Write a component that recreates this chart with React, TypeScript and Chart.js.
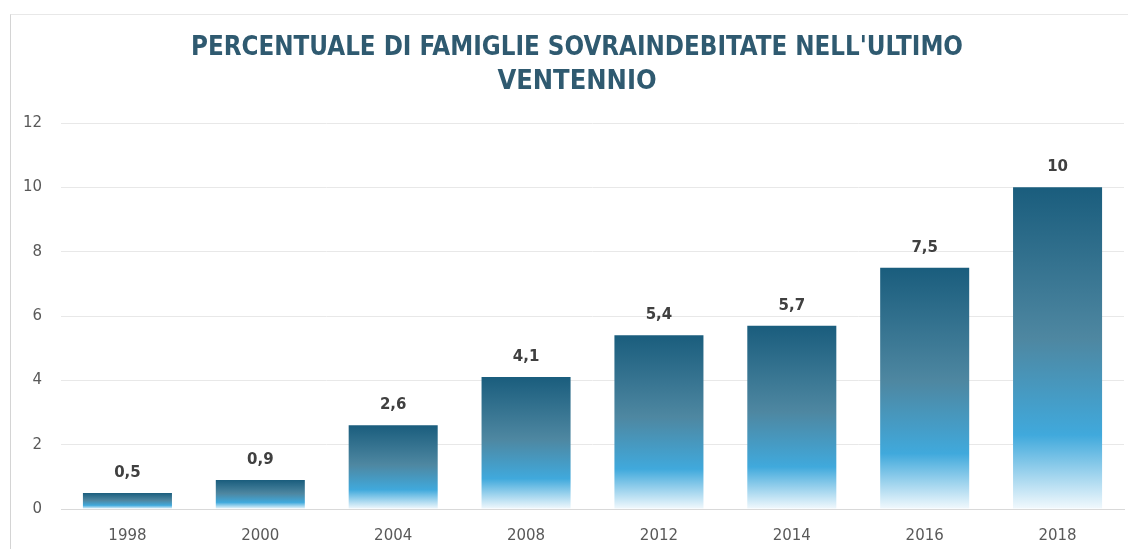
import React, { useEffect, useRef } from "react";
import { Chart, registerables } from "chart.js";

Chart.register(...registerables);

const categories = ["1998", "2000", "2004", "2008", "2012", "2014", "2016", "2018"];
const values = [0.5, 0.9, 2.6, 4.1, 5.4, 5.7, 7.5, 10];
const valueLabels = ["0,5", "0,9", "2,6", "4,1", "5,4", "5,7", "7,5", "10"];
const titleLines = ["PERCENTUALE DI FAMIGLIE SOVRAINDEBITATE NELL'ULTIMO", "VENTENNIO"];

const titlePlugin = {
  id: "customTitle",
  afterDraw(chart: any) {
    const ctx = chart.ctx;
    ctx.save();
    ctx.fillStyle = "#2f5a70";
    ctx.textAlign = "center";
    ctx.textBaseline = "middle";
    ctx.font = "bold 27px 'DejaVu Sans Condensed', 'DejaVu Sans'";
    const cx = 566;
    ctx.fillText(titleLines[0], cx, 33, 772);
    ctx.fillText(titleLines[1], cx, 67);
    ctx.restore();
  },
};

const labelPlugin = {
  id: "valueLabels",
  afterDatasetsDraw(chart: any) {
    const ctx = chart.ctx;
    const meta = chart.getDatasetMeta(0);
    ctx.save();
    ctx.fillStyle = "#404040";
    ctx.textAlign = "center";
    ctx.textBaseline = "middle";
    ctx.font = "bold 15px 'DejaVu Sans'";
    meta.data.forEach((el: any, i: number) => {
      ctx.fillText(valueLabels[i], el.x, el.y - 20);
    });
    ctx.restore();
  },
};

function barGradient(context: any) {
  const chart = context.chart;
  const { ctx, chartArea, scales } = chart;
  if (!chartArea || !scales.y) return "#1b5e7e";
  const v = context.raw as number;
  const top = scales.y.getPixelForValue(v);
  const bottom = scales.y.getPixelForValue(0);
  if (!isFinite(top) || !isFinite(bottom) || bottom - top < 1) return "#1b5e7e";
  const g = ctx.createLinearGradient(0, top, 0, bottom);
  g.addColorStop(0, "#1a5d7d");
  g.addColorStop(0.47, "#4e87a1");
  g.addColorStop(0.77, "#40a9dc");
  g.addColorStop(1, "#f2f9fd");
  return g;
}

export default function App() {
  const ref = useRef<HTMLCanvasElement>(null);
  useEffect(() => {
    if (!ref.current) return;
    const chart = new Chart(ref.current, {
      type: "bar",
      data: {
        labels: categories,
        datasets: [
          {
            data: values,
            backgroundColor: barGradient,
            borderWidth: 0,
            categoryPercentage: 1,
            barPercentage: 0.67,
          },
        ],
      },
      plugins: [titlePlugin, labelPlugin],
      options: {
        responsive: false,
        animation: false,
        devicePixelRatio: 1,
        layout: { padding: { top: 108, right: 4, left: 0, bottom: 0 } },
        plugins: { legend: { display: false }, title: { display: false }, tooltip: { enabled: false } },
        scales: {
          x: {
            grid: { display: false, drawTicks: false },
            border: { display: true, color: "#d9d9d9", width: 1 },
            ticks: { color: "#595959", font: { family: "'DejaVu Sans'", size: 15 }, padding: 18 },
            afterFit: (s: any) => { s.height = 40; },
          },
          y: {
            min: 0,
            max: 12,
            grid: { color: "#e8e8e8", drawTicks: false },
            border: { display: false },
            ticks: { stepSize: 2, color: "#595959", font: { family: "'DejaVu Sans'", size: 15 }, padding: 19 },
            afterFit: (s: any) => { s.width = 50; },
          },
        },
      },
    });
    return () => chart.destroy();
  }, []);
  return (
    <div
      style={{
        position: "absolute",
        left: 10,
        top: 14,
        width: 1118,
        height: 535,
        borderLeft: "1px solid #d4d4d4",
        borderTop: "1px solid #e8e8e8",
        background: "#fff",
      }}
    >
      <canvas ref={ref} width={1117} height={534} style={{ display: "block" }} />
    </div>
  );
}
